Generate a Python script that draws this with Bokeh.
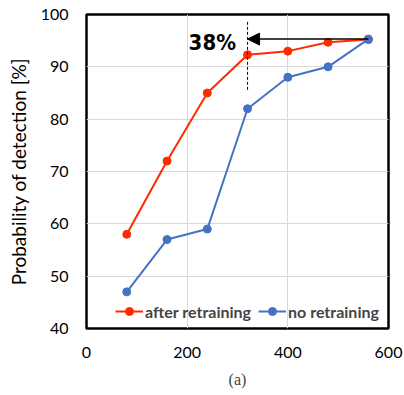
from bokeh.plotting import figure
from bokeh.models import Arrow, NormalHead, Label, Title, Legend, LegendItem, FixedTicker
from bokeh.embed import file_html
from bokeh.resources import INLINE

x_vals = [80, 160, 240, 320, 400, 480, 560]
after_retraining = [58, 72, 85, 92.3, 93, 94.7, 95.2]
no_retraining = [47, 57, 59, 82, 88, 90, 95.3]
x_ticks = [0, 200, 400, 600]
y_ticks = [40, 50, 60, 70, 80, 90, 100]
gain_label = "38%"
mark_x = 320
mark_y_range = [85.6, 98.9]

red = "#ff2a00"
blue = "#4472c4"
FONT = "Lato"

p = figure(width=404, height=395, output_backend="svg", toolbar_location=None,
           x_range=(0, 600), y_range=(40, 100),
           min_border_left=86, min_border_right=16, min_border_top=14, min_border_bottom=14)
p.background_fill_color = "white"
p.border_fill_color = "white"
p.outline_line_color = "black"
p.outline_line_width = 2.5

p.xaxis.ticker = FixedTicker(ticks=x_ticks)
p.yaxis.ticker = FixedTicker(ticks=y_ticks)
for ax in (p.xaxis[0], p.yaxis[0]):
    ax.axis_line_color = None
    ax.major_tick_line_color = None
    ax.minor_tick_line_color = None
    ax.major_label_text_font = FONT
    ax.major_label_text_font_size = "16px"
    ax.major_label_text_color = "black"
p.xaxis.major_label_standoff = 12
p.yaxis.major_label_standoff = 12
p.yaxis.axis_label = "Probability of detection [%]"
p.yaxis.axis_label_text_font = FONT
p.yaxis.axis_label_text_font_size = "19px"
p.yaxis.axis_label_text_font_style = "normal"
p.yaxis.axis_label_text_color = "black"
p.yaxis.axis_label_standoff = 8

p.xgrid.grid_line_color = "#d9d9d9"
p.ygrid.grid_line_color = "#d9d9d9"

r1 = p.line(x_vals, after_retraining, line_color=red, line_width=2)
s1 = p.scatter(x_vals, after_retraining, size=8, color=red)
r2 = p.line(x_vals, no_retraining, line_color=blue, line_width=2)
s2 = p.scatter(x_vals, no_retraining, size=8, color=blue)

legend = Legend(items=[LegendItem(label="after retraining", renderers=[r1, s1]),
                       LegendItem(label="no retraining", renderers=[r2, s2])],
                orientation="horizontal", location=(29, 7),
                border_line_color=None, background_fill_alpha=0,
                label_text_font=FONT, label_text_font_style="bold",
                label_text_font_size="16px", glyph_width=28, spacing=7,
                label_standoff=2, padding=4)
p.add_layout(legend, "center")

p.segment(x0=[mark_x], y0=[mark_y_range[0]], x1=[mark_x], y1=[mark_y_range[1]],
          line_dash="3 2", line_color="black", line_width=1)
p.add_layout(Arrow(end=NormalHead(size=12, fill_color="black", line_color="black"),
                   x_start=x_vals[-1], y_start=no_retraining[-1],
                   x_end=mark_x, y_end=no_retraining[-1],
                   line_color="black", line_width=1.5))
p.add_layout(Label(x=297, y=94.6, text=gain_label, text_align="right",
                   text_baseline="middle", text_font="DejaVu Sans Condensed",
                   text_font_style="bold", text_font_size="22px", text_color="black"))

p.add_layout(Title(text="(a)", align="center", text_font="Liberation Serif",
                   text_font_size="16px", text_font_style="normal",
                   standoff=16), "below")

open("out.html", "w").write(file_html(p, INLINE))
